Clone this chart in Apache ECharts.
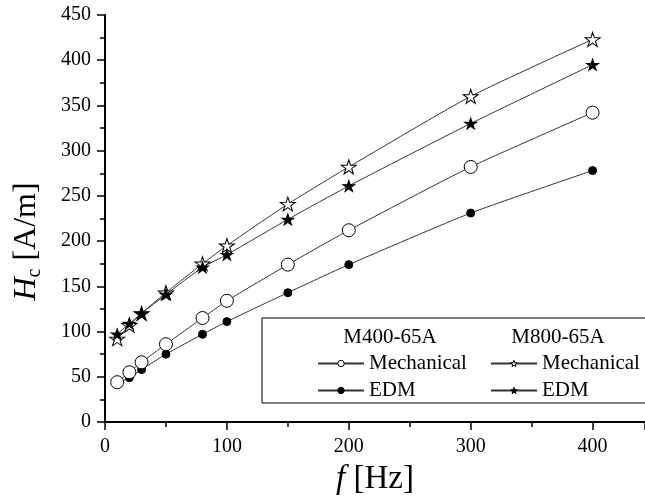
<!DOCTYPE html>
<html style="height: 100%">
<head>
<meta charset="utf-8">
<script src="https://cdn.jsdelivr.net/npm/echarts@6/dist/echarts.min.js"></script>
</head>
<body style="height: 100%; margin: 0; background: #fff">
<div id="container" style="width: 645px; height: 497px"></div>
<script>
var freq = [10, 20, 30, 50, 80, 100, 150, 200, 300, 400];
var m400Mech = [44, 55, 66, 86, 115, 134, 174, 212, 282, 342];
var m400Edm = [43, 49, 58, 75, 97, 111, 143, 174, 231, 278];
var m800Mech = [92, 107, 120, 143, 175, 195, 241, 282, 360, 423];
var m800Edm = [97, 109, 120, 141, 171, 185, 224, 261, 330, 395];

var font = 'Liberation Serif';
var star = 'path://M50,0L61.23,34.55L97.55,34.55L68.16,55.9L79.39,90.45L50,69.1L20.61,90.45L31.84,55.9L2.45,34.55L38.77,34.55Z';

function pairs(ys) {
    return freq.map(function (f, i) { return [f, ys[i]]; });
}

function makeSeries(name, ys, symbol, size, filled, z) {
    return {
        name: name,
        type: 'line',
        z: z,
        smooth: 0.2,
        data: pairs(ys),
        symbol: symbol,
        symbolSize: size,
        showAllSymbol: true,
        lineStyle: { color: '#333', width: 1 },
        itemStyle: { color: filled ? '#000' : '#fff', borderColor: '#000', borderWidth: 1 }
    };
}

function legendItem(name, filled) {
    return {
        name: name,
        itemStyle: { color: filled ? '#000' : '#fff', borderColor: '#000', borderWidth: 1 }
    };
}

var dom = document.getElementById('container');
var myChart = echarts.init(dom);

var legendBase = {
    orient: 'vertical',
    top: 353,
    padding: 0,
    itemGap: 6,
    itemWidth: 46,
    itemHeight: 8,
    textStyle: { fontFamily: font, fontSize: 21, color: '#000' }
};

var option = {
    animation: false,
    textStyle: { fontFamily: font },
    grid: { left: 105, top: 15, right: 0, bottom: 75, containLabel: false, outerBoundsMode: 'none' },
    xAxis: {
        type: 'value',
        min: 0,
        max: 443,
        interval: 100,
        name: '{i|f} [Hz]',
        nameLocation: 'middle',
        nameGap: 41,
        nameTextStyle: {
            fontFamily: font, fontSize: 33, color: '#000',
            rich: { i: { fontFamily: font, fontStyle: 'italic', fontSize: 33, color: '#000' } }
        },
        axisLine: { lineStyle: { color: '#000', width: 2 } },
        axisTick: { length: 8, lineStyle: { color: '#000', width: 1.5 } },
        minorTick: { show: true, splitNumber: 2, length: 5, lineStyle: { color: '#000', width: 1.5 } },
        axisLabel: { fontFamily: font, fontSize: 20, color: '#000', margin: 15, showMaxLabel: false },
        splitLine: { show: false }
    },
    yAxis: {
        type: 'value',
        min: 0,
        max: 450,
        interval: 50,
        name: '{i|H}{s|c} [A/m]',
        nameLocation: 'middle',
        nameGap: 60,
        nameTextStyle: {
            fontFamily: font, fontSize: 32, color: '#000',
            padding: [0, 46, 0, 0],
            rich: {
                i: { fontFamily: font, fontStyle: 'italic', fontSize: 32, color: '#000' },
                s: { fontFamily: font, fontSize: 20, color: '#000', padding: [16, 0, 0, 0] }
            }
        },
        axisLine: { show: true, lineStyle: { color: '#000', width: 2 } },
        axisTick: { show: true, length: 8, lineStyle: { color: '#000', width: 1.5 } },
        minorTick: { show: true, splitNumber: 2, length: 5, lineStyle: { color: '#000', width: 1.5 } },
        axisLabel: { fontFamily: font, fontSize: 20, color: '#000', margin: 14 },
        splitLine: { show: false }
    },
    legend: [
        Object.assign({}, legendBase, {
            left: 317,
            data: [legendItem('M400 Mechanical', false), legendItem('M400 EDM', true)],
            formatter: function (n) { return n.replace('M400 ', ''); }
        }),
        Object.assign({}, legendBase, {
            left: 490,
            data: [legendItem('M800 Mechanical', false), legendItem('M800 EDM', true)],
            formatter: function (n) { return n.replace('M800 ', ''); }
        })
    ],
    graphic: [{
        type: 'rect',
        shape: { x: 262, y: 318, width: 400, height: 85 },
        style: { fill: 'rgba(0,0,0,0)', stroke: '#000', lineWidth: 1 },
        z: 0
    }, {
        type: 'text',
        x: 390, y: 337,
        style: { text: 'M400-65A', font: '21px "Liberation Serif"', fill: '#000', textAlign: 'center', textVerticalAlign: 'middle' }
    }, {
        type: 'text',
        x: 558, y: 337,
        style: { text: 'M800-65A', font: '21px "Liberation Serif"', fill: '#000', textAlign: 'center', textVerticalAlign: 'middle' }
    }],
    series: [
        makeSeries('M400 Mechanical', m400Mech, 'circle', 13, false, 4),
        makeSeries('M400 EDM', m400Edm, 'circle', 8, true, 2),
        makeSeries('M800 Mechanical', m800Mech, star, [15, 14], false, 2),
        makeSeries('M800 EDM', m800Edm, star, [12, 11], true, 3)
    ]
};

if (option && typeof option === 'object') {
    myChart.setOption(option);
}
</script>
</body>
</html>
